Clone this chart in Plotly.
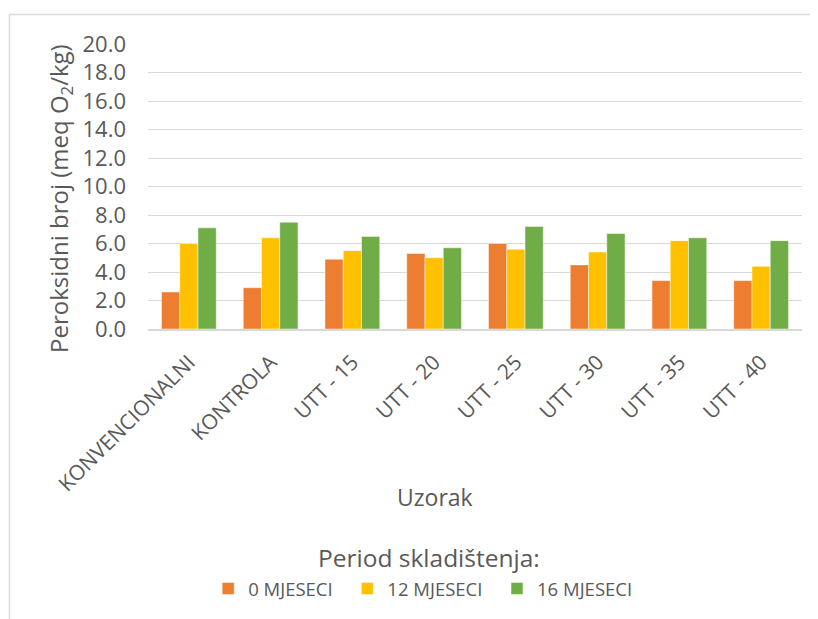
import plotly.graph_objects as go

categories = ["KONVENCIONALNI", "KONTROLA", "UTT - 15", "UTT - 20", "UTT - 25", "UTT - 30", "UTT - 35", "UTT - 40"]
series_names = ["0 MJESECI", "12 MJESECI", "16 MJESECI"]
values_0 = [2.6, 2.9, 4.9, 5.3, 6.0, 4.5, 3.4, 3.4]
values_12 = [6.0, 6.4, 5.5, 5.0, 5.6, 5.4, 6.2, 4.4]
values_16 = [7.1, 7.5, 6.5, 5.7, 7.2, 6.7, 6.4, 6.2]
colors = ["#ED7D31", "#FFC000", "#70AD47"]
y_ticks = [0, 2, 4, 6, 8, 10, 12, 14, 16, 18, 20]
y_tick_labels = [f"{v:.1f}" for v in y_ticks]

font_family = "Open Sans, Liberation Sans, sans-serif"
text_color = "#595959"

fig = go.Figure()
pad = "\u00a0\u00a0"
for i, (name, vals, col) in enumerate(zip(series_names, [values_0, values_12, values_16], colors)):
    fig.add_trace(go.Bar(
        x=categories, y=vals, name=name + (pad if i < len(series_names) - 1 else ""),
        marker=dict(color=col, line=dict(color="rgba(255,255,255,0.6)", width=0.8)),
    ))

# page body has an 8px margin, so the figure is drawn 8px smaller
fig.update_layout(
    width=810, height=611,
    margin=dict(l=140, r=16, t=36, b=290, autoexpand=False),
    paper_bgcolor="white", plot_bgcolor="white",
    barmode="group", bargap=0.33, bargroupgap=0,
    font=dict(family=font_family, color=text_color, size=17),
    xaxis=dict(
        tickangle=-45, tickfont=dict(size=21, color=text_color),
        showgrid=False, showline=True, linecolor="#D9D9D9", linewidth=1.5,
        ticks="", ticklabelstandoff=11, automargin=False,
    ),
    yaxis=dict(
        range=[0, 20], tickvals=y_ticks, ticktext=y_tick_labels,
        tickfont=dict(size=22, color=text_color), ticklabelstandoff=21,
        showgrid=True, gridcolor="#D9D9D9", gridwidth=1.2,
        zeroline=False, showline=False, ticks="", automargin=False,
    ),
    legend=dict(
        orientation="h", x=0.42, xanchor="center", y=-0.912, yanchor="middle",
        font=dict(size=18.5, color=text_color), itemwidth=30, traceorder="normal",
    ),
    showlegend=True,
)

fig.add_annotation(text="Peroksidni broj (meq O<sub>2</sub>/kg)", xref="paper", yref="paper",
                   x=-0.1346, y=0.4596, xanchor="center", yanchor="middle", textangle=-90,
                   showarrow=False, font=dict(size=24, color=text_color))
fig.add_annotation(text="Uzorak", xref="paper", yref="paper",
                   x=0.4388, y=-0.5895, xanchor="center", yanchor="middle",
                   showarrow=False, font=dict(size=23, color=text_color))
fig.add_annotation(text="Period skladištenja:", xref="paper", yref="paper",
                   x=0.43, y=-0.8035, xanchor="center", yanchor="middle",
                   showarrow=False, font=dict(size=24.5, color=text_color))

# outer chart border (top and left edges visible)
fig.add_shape(type="line", xref="paper", yref="paper", x0=-0.2118, x1=1.1, y0=1.1035, y1=1.1035,
              line=dict(color="#D9D9D9", width=1.5))
fig.add_shape(type="line", xref="paper", yref="paper", x0=-0.2118, x1=-0.2118, y0=1.1035, y1=-1.2,
              line=dict(color="#D9D9D9", width=1.5))

fig.write_html("out.html")
